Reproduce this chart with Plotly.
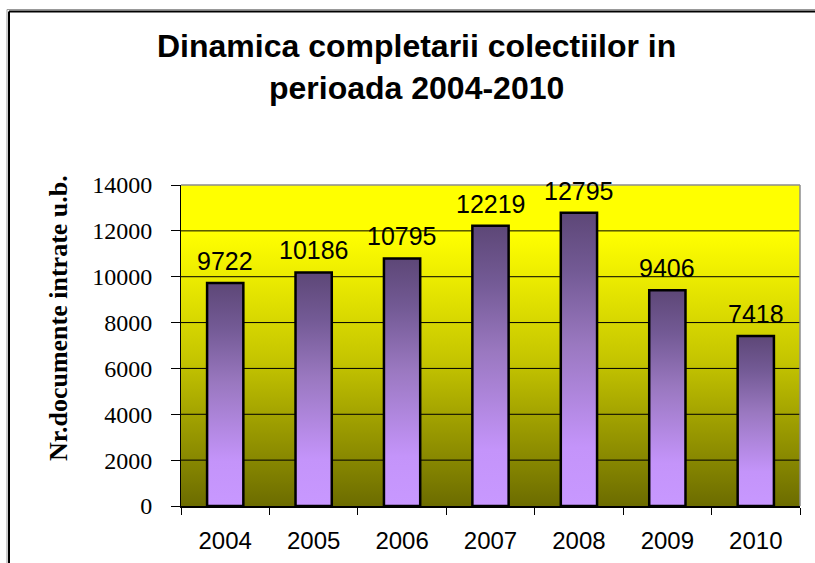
import plotly.graph_objects as go

years = ["2004", "2005", "2006", "2007", "2008", "2009", "2010"]
values = [9722, 10186, 10795, 12219, 12795, 9406, 7418]
y_ticks = [0, 2000, 4000, 6000, 8000, 10000, 12000, 14000]
title_lines = ["Dinamica completarii colectiilor in", "perioada 2004-2010"]
y_title = "Nr.documente intrate u.b."

BAR_W = 0.41
idx = list(range(len(years)))
x_lo, x_hi = -0.5, len(years) - 0.5
y_max = 14000

fig = go.Figure()

# plot background gradient
fig.add_trace(go.Scatter(
    x=[x_lo, x_hi, x_hi, x_lo, x_lo], y=[0, 0, y_max, y_max, 0],
    mode="lines", line=dict(width=0), fill="toself",
    fillgradient=dict(type="vertical",
                      colorscale=[[0, "#6c6c00"], [0.25, "#9c9c00"], [0.45, "#c4c400"],
                                  [0.7, "#eaea00"], [0.85, "#ffff00"], [1, "#ffff00"]]),
    hoverinfo="skip", showlegend=False))

# gridlines
gx, gy = [], []
for v in y_ticks[1:-1]:
    gx += [x_lo, x_hi, None]
    gy += [v, v, None]
fig.add_trace(go.Scatter(x=gx, y=gy, mode="lines", line=dict(color="black", width=1),
                         hoverinfo="skip", showlegend=False))

# bars with vertical gradient
for i, v in zip(idx, values):
    fig.add_trace(go.Scatter(
        x=[i - BAR_W / 2, i + BAR_W / 2, i + BAR_W / 2, i - BAR_W / 2, i - BAR_W / 2],
        y=[0, 0, v, v, 0],
        mode="lines", line=dict(color="black", width=2.5), fill="toself",
        fillgradient=dict(type="vertical",
                          colorscale=[[0, "#c898ff"], [0.2, "#c494fa"], [0.55, "#9a78c0"],
                                      [0.8, "#735a95"], [1, "#5d4777"]]),
        hoverinfo="skip", showlegend=False))

# value labels
for i, v in zip(idx, values):
    fig.add_annotation(x=i, y=v, text=str(v), showarrow=False, yanchor="bottom", yshift=6,
                       font=dict(family="Liberation Sans, Arial", size=25, color="black"))

# title
fig.add_annotation(xref="paper", yref="paper", x=0.381, y=(506 - 26) / 321, xanchor="center",
                   yanchor="top",
                   text="<b>" + title_lines[0] + "</b><br><b>" + title_lines[1] + "</b>",
                   showarrow=False, align="center",
                   font=dict(family="Liberation Sans, Arial", size=32, color="black"))

# y title
fig.add_annotation(xref="paper", yref="paper", x=(58 - 181) / 619, y=(506 - 318) / 321,
                   xanchor="center", yanchor="middle", textangle=-90, showarrow=False,
                   text="<b>" + y_title + "</b>",
                   font=dict(family="Liberation Serif, Times New Roman", size=26, color="black"))

# outer frame
top_y = (506 - 11.5) / 321
left_x = (9 - 181) / 619
fig.add_shape(type="line", xref="paper", yref="paper", x0=left_x - 2 / 619, x1=1.1,
              y0=top_y + 2 / 321, y1=top_y + 2 / 321, line=dict(color="#999999", width=1))
fig.add_shape(type="line", xref="paper", yref="paper", x0=left_x - 2 / 619, y0=top_y + 2 / 321,
              x1=left_x - 2 / 619, y1=-0.3, line=dict(color="#999999", width=1))
fig.add_shape(type="line", xref="paper", yref="paper", x0=left_x, x1=1.1,
              y0=top_y, y1=top_y, line=dict(color="black", width=2))
fig.add_shape(type="line", xref="paper", yref="paper", x0=left_x, y0=top_y,
              x1=left_x, y1=-0.3, line=dict(color="black", width=2))

# plot border top/right (gray)
fig.add_shape(type="line", xref="paper", yref="paper", x0=0, x1=1, y0=1, y1=1,
              line=dict(color="#8c8c8c", width=1.5))
fig.add_shape(type="line", xref="paper", yref="paper", x0=1, x1=1, y0=0, y1=1,
              line=dict(color="#8c8c8c", width=1.5))

fig.update_layout(
    width=815, height=563,
    margin=dict(l=181, r=15, t=185, b=57),
    paper_bgcolor="white", plot_bgcolor="white",
    showlegend=False,
    xaxis=dict(range=[x_lo, x_hi], tickmode="array", tickvals=idx, ticktext=years,
               ticks="", showgrid=False, zeroline=False, automargin=False,
               showline=True, linecolor="black", linewidth=1.5,
               tickfont=dict(family="Liberation Sans, Arial", size=24, color="black"),
               ticklabelstandoff=12,
               minor=dict(tick0=-0.5, dtick=1, ticks="outside", ticklen=7,
                          tickcolor="black", tickwidth=1, showgrid=False)),
    yaxis=dict(range=[0, y_max], tickmode="array", tickvals=y_ticks,
               ticktext=[str(t) for t in y_ticks], automargin=False,
               ticks="outside", ticklen=9, tickcolor="black", tickwidth=1,
               showgrid=False, zeroline=False,
               showline=True, linecolor="black", linewidth=1,
               tickfont=dict(family="Liberation Serif, Times New Roman", size=24, color="black"),
               ticklabelstandoff=14),
)

fig.write_html("out.html", config={"displayModeBar": False},
               post_script="document.body.style.margin='0';")
